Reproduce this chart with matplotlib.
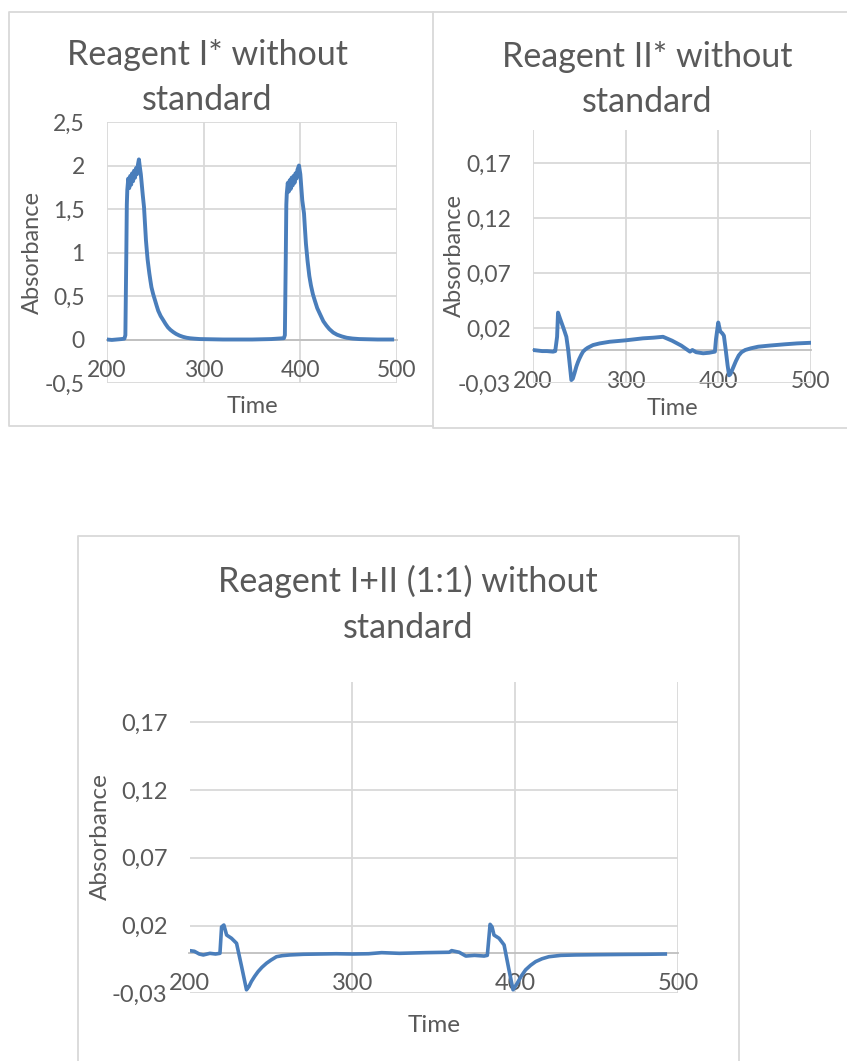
import matplotlib.pyplot as plt
from matplotlib.lines import Line2D
from matplotlib.ticker import FuncFormatter

plt.rcParams['font.family'] = ['Lato', 'DejaVu Sans']

W, H = 847, 1061
BLUE = '#4a7ebb'
GREY_TEXT = '#595959'
GRID = '#d9d9d9'

# --- data ---

# Reagent I* without standard
time_r1 = [200, 205, 210, 215, 218, 219, 220, 220.5, 221, 222, 223, 224, 225, 226, 227,
           228, 229, 230, 231, 232, 233, 234, 235, 236, 237, 238.3, 239.3, 240.3, 241.2,
           242, 243, 243.8, 245, 246, 247.8, 249.7, 251.3, 253, 255.5, 258.3, 260.5, 263,
           265.7, 268.6, 271.5, 275, 278.5, 282.4, 286, 290, 296, 320, 350, 370,
           383, 384, 385, 385.5, 386, 387, 388, 389, 390, 391, 392, 393, 394, 395, 396,
           397, 398.6, 400, 401, 402, 403.8, 404.8, 405.8, 407.5, 409.3, 411, 413, 415.2,
           417.5, 420, 423.8, 427, 430, 434, 438, 443, 448, 454, 461, 480, 495]
abs_r1 = [0.0, -0.005, 0.0, 0.005, 0.01, 0.05, 1.0, 1.55, 1.72, 1.85, 1.74, 1.88, 1.78,
          1.91, 1.82, 1.94, 1.86, 1.97, 1.9, 2.01, 2.07, 1.98, 1.9, 1.78, 1.66, 1.52,
          1.33, 1.14, 1.02, 0.92, 0.83, 0.76, 0.67, 0.6, 0.52, 0.45, 0.39, 0.33, 0.27,
          0.22, 0.18, 0.14, 0.11, 0.085, 0.064, 0.045, 0.031, 0.02, 0.014, 0.01, 0.005,
          0.0, 0.0, 0.005, 0.015, 0.05, 1.0, 1.55, 1.68, 1.8, 1.7, 1.83, 1.73, 1.86, 1.77,
          1.88, 1.8, 1.91, 1.85, 1.95, 2.0, 1.9, 1.75, 1.6, 1.45, 1.27, 1.1, 0.9, 0.73,
          0.62, 0.52, 0.44, 0.36, 0.3, 0.21, 0.16, 0.12, 0.08, 0.055, 0.035, 0.02, 0.011,
          0.005, 0.0, 0.0]

# Reagent II* without standard
time_r2 = [200, 205, 210, 215, 221.6, 224, 226, 227, 229, 232.4, 234.2, 236, 238, 240,
           241.4, 243, 244.8, 246.8, 248.5, 250, 252, 254, 256.5, 259, 264.8, 272, 282.8,
           300, 318.7, 330, 340.3, 350, 360, 369.4, 372, 376, 383.7, 390, 396.3, 397.5,
           399.9, 402, 404.4, 406, 408, 410, 411.6, 413, 416, 419, 422, 425, 429, 435,
           443, 455, 472, 485, 500.7]
abs_r2 = [0.0, -0.0005, -0.001, -0.001, -0.0015, -0.001, 0.012, 0.034, 0.029, 0.021,
          0.0166, 0.012, 0.0, -0.016, -0.0273, -0.026, -0.021, -0.015, -0.011, -0.008,
          -0.0045, -0.0015, 0.0005, 0.002, 0.0045, 0.006, 0.0075, 0.0088, 0.0106, 0.0112,
          0.012, 0.0085, 0.004, -0.0015, 0.0, -0.002, -0.003, -0.0025, -0.0015, 0.01,
          0.025, 0.017, 0.015, 0.013, 0.0, -0.014, -0.023, -0.022, -0.016, -0.01, -0.005,
          -0.002, 0.0, 0.0015, 0.003, 0.004, 0.0052, 0.006, 0.0066]

# Reagent I+II (1:1) without standard
time_mix = [200, 203, 206, 208.5, 212.5, 216, 218.7, 219.7, 221.1, 222.8, 225.8, 228.9,
            232, 235, 236.5, 238, 240, 242.1, 244.5, 247.3, 250, 253.4, 257, 261.5, 270,
            279.9, 290, 300.3, 310, 318, 328.9, 345, 359.5, 361, 365.6, 369.7, 375, 380.9,
            382.9, 384.6, 385.8, 387, 390.1, 393.2, 396.2, 398.7, 400, 401.3, 403.8, 406.4,
            409.5, 412.6, 416.5, 420.7, 428, 437, 450, 467.7, 480, 492.2]
abs_mix = [0.0015, 0.001, -0.001, -0.0017, -0.0005, -0.001, -0.0005, 0.019, 0.0204,
           0.013, 0.0106, 0.0069, -0.0103, -0.0274, -0.025, -0.0213, -0.0175, -0.014,
           -0.0108, -0.0078, -0.0055, -0.003, -0.0022, -0.0017, -0.0012, -0.001, -0.0008,
           -0.001, -0.0008, 0.0, -0.0005, 0.0, 0.0003, 0.0015, 0.0003, -0.0025, -0.002,
           -0.0025, -0.002, 0.0209, 0.019, 0.013, 0.0106, 0.0057, -0.0127, -0.0274, -0.025,
           -0.0225, -0.0172, -0.0127, -0.0093, -0.0066, -0.0045, -0.003, -0.002, -0.0017,
           -0.0015, -0.0013, -0.0012, -0.001]

x_ticks = [200, 300, 400, 500]
y_ticks_r1 = [-0.5, 0, 0.5, 1, 1.5, 2, 2.5]
y_ticks_small = [-0.03, 0.02, 0.07, 0.12, 0.17]


def px_axes(fig, left, top, right, bottom):
    return fig.add_axes([left / W, 1 - bottom / H, (right - left) / W, (bottom - top) / H])


def frame(fig, pts):
    xs = [p[0] / W for p in pts]
    ys = [1 - p[1] / H for p in pts]
    fig.add_artist(Line2D(xs, ys, transform=fig.transFigure, color=GRID, lw=1.3))


def comma(v, pos):
    return f"{v:g}".replace('.', ',')


def style_axes(ax, t, a, yticks, ylim, lw, fs):
    ax.plot(t, a, color=BLUE, lw=lw, solid_joinstyle='round', zorder=3)
    ax.set_xlim(200, 500)
    ax.set_ylim(*ylim)
    ax.set_xticks(x_ticks)
    ax.set_yticks(yticks)
    ax.yaxis.set_major_formatter(FuncFormatter(comma))
    ax.grid(True, color=GRID, lw=1.3)
    ax.set_axisbelow(True)
    for s in ['top', 'right', 'left']:
        ax.spines[s].set_visible(False)
    ax.spines['bottom'].set_position(('data', 0))
    ax.spines['bottom'].set_color('#bfbfbf')
    ax.spines['bottom'].set_linewidth(1.3)
    ax.tick_params(length=0, labelsize=fs, labelcolor=GREY_TEXT)
    ax.tick_params(axis='x', pad=15)
    ax.tick_params(axis='y', pad=16)


fig = plt.figure(figsize=(W / 100, H / 100), dpi=100)

# panel frames
frame(fig, [(433, 12), (9, 12), (9, 426), (433, 426)])
frame(fig, [(847, 12), (433, 12), (433, 428), (847, 428)])
frame(fig, [(78, 1061), (78, 536), (739, 536), (739, 1061)])

ax1 = px_axes(fig, 107, 122, 397, 383)
style_axes(ax1, time_r1, abs_r1, y_ticks_r1, (-0.5, 2.5), 2.8, 16.5)

ax2 = px_axes(fig, 533, 130, 811, 383)
style_axes(ax2, time_r2, abs_r2, y_ticks_small, (-0.03, 0.2), 2.8, 16.5)

ax3 = px_axes(fig, 189.5, 681.7, 678, 993.3)
style_axes(ax3, time_mix, abs_mix, y_ticks_small, (-0.03, 0.2), 2.6, 17)

# titles and axis labels, placed in pixels
texts = [
    (207, 65, "Reagent I* without", 24.5),
    (207, 110, "standard", 24.5),
    (647, 67, "Reagent II* without", 24.5),
    (647, 112, "standard", 24.5),
    (408, 592, "Reagent I+II (1:1) without", 24.5),
    (408, 638, "standard", 24.5),
    (252, 413, "Time", 17),
    (672, 415, "Time", 17),
    (434, 1032, "Time", 17.5),
]
for x, y, s, fs in texts:
    fig.text(x / W, 1 - y / H, s, ha='center', va='baseline', fontsize=fs,
             color=GREY_TEXT)

for x, y, fs in [(32, 252, 17), (454, 256, 17), (100, 837, 17.5)]:
    fig.text(x / W, 1 - y / H, "Absorbance", ha='center', va='center', fontsize=fs,
             color=GREY_TEXT, rotation=90)

fig.savefig("out.png", dpi=100)
